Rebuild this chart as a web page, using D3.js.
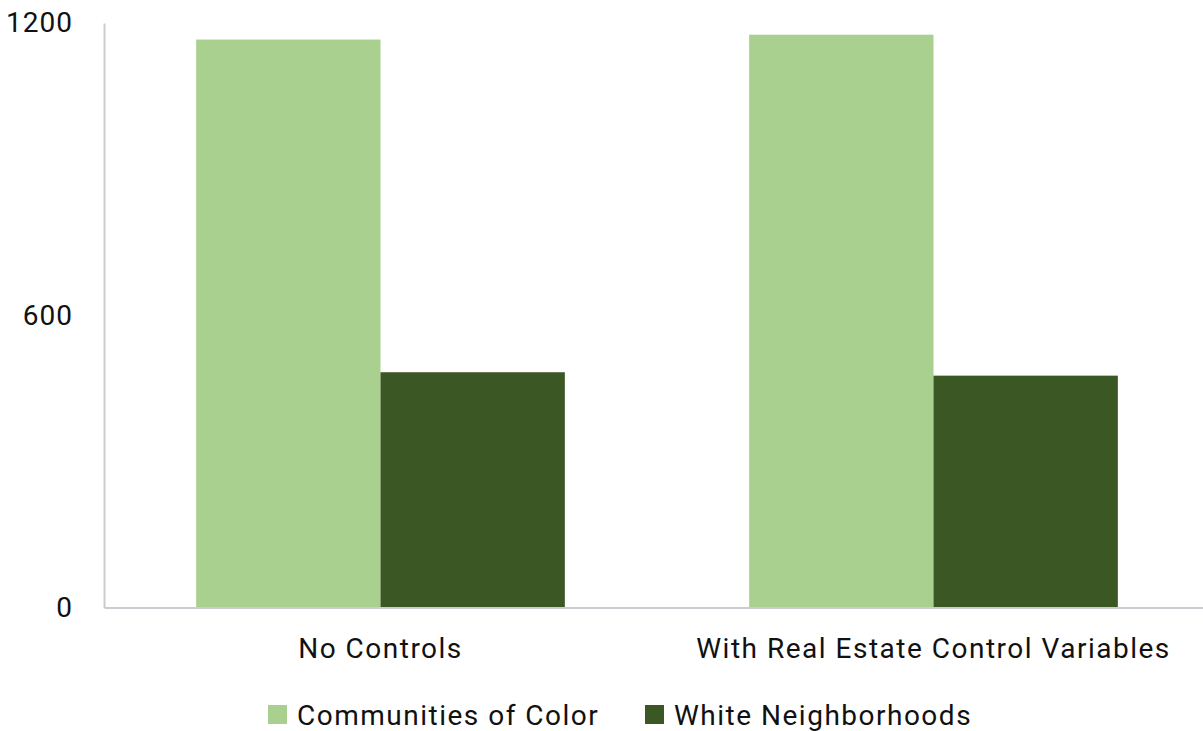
<!DOCTYPE html>
<html>
<head>
<meta charset="utf-8">
<script src="https://cdn.jsdelivr.net/npm/d3@7"></script>
<style>
  html, body { margin: 0; padding: 0; background: #fff; }
  svg { display: block; font-family: Roboto, "Liberation Sans", sans-serif; }
</style>
</head>
<body>
<svg id="chart" width="1203" height="731"></svg>
<script>
const categories = ["No Controls", "With Real Estate Control Variables"];
const seriesNames = ["Communities of Color", "White Neighborhoods"];
const communitiesOfColor = [1166, 1176];
const whiteNeighborhoods = [483, 476];
const yTicks = [0, 600, 1200];
const colors = ["#a9d08e", "#3b5724"];

const seriesValues = [communitiesOfColor, whiteNeighborhoods];
const data = categories.map((c, i) => ({
  category: c,
  values: seriesNames.map((s, j) => ({ series: s, value: seriesValues[j][i], idx: j }))
}));

const svg = d3.select("#chart");
const mLeft = 104, mRight = 1210, mTop = 23, mBottom = 607.5;

const x0 = d3.scaleBand().domain(categories).range([mLeft, mRight]).paddingInner(1/3).paddingOuter(1/6);
const x1 = d3.scaleBand().domain(seriesNames).range([0, x0.bandwidth()]).padding(0);
const y = d3.scaleLinear().domain([0, 1200]).range([mBottom, mTop]);

// bars
const g = svg.append("g");
g.selectAll("g.grp").data(data).join("g")
  .attr("class", "grp")
  .attr("transform", d => `translate(${x0(d.category)},0)`)
  .selectAll("rect").data(d => d.values).join("rect")
  .attr("x", d => x1(d.series))
  .attr("width", x1.bandwidth())
  .attr("y", d => y(d.value))
  .attr("height", d => y(0) - y(d.value))
  .attr("fill", d => colors[d.idx]);

// y axis
const yAxis = svg.append("g").attr("transform", `translate(${mLeft},0)`)
  .call(d3.axisLeft(y).tickValues(yTicks).tickSize(0).tickPadding(31).tickFormat(d3.format("d")));
yAxis.select(".domain").attr("stroke", "#c9cdd2").attr("stroke-width", 2);
yAxis.selectAll("text").attr("font-size", 28).attr("fill", "#111")
  .attr("font-family", "Roboto, sans-serif").attr("letter-spacing", 1);

// x axis
const xAxis = svg.append("g").attr("transform", `translate(0,${mBottom})`)
  .call(d3.axisBottom(x0).tickSize(0).tickPadding(31));
xAxis.select(".domain").attr("stroke", "#c9cdd2").attr("stroke-width", 2);
xAxis.selectAll("text").attr("font-size", 28).attr("fill", "#111")
  .attr("font-family", "Roboto, sans-serif").attr("letter-spacing", 1.5);

// legend
const legendItems = [
  { name: seriesNames[0], color: colors[0], x: 268 },
  { name: seriesNames[1], color: colors[1], x: 645 }
];
const lg = svg.append("g");
const li = lg.selectAll("g").data(legendItems).join("g")
  .attr("transform", d => `translate(${d.x},705)`);
li.append("rect").attr("width", 19).attr("height", 19).attr("fill", d => d.color);
li.append("text").attr("x", 29).attr("y", 20)
  .attr("font-size", 28).attr("fill", "#111").attr("letter-spacing", 1.5)
  .text(d => d.name);
</script>
</body>
</html>
